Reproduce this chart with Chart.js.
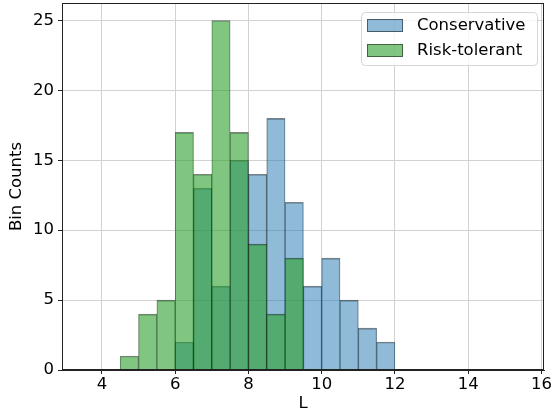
<!DOCTYPE html>
<html lang="en">
<head>
<meta charset="UTF-8">
<title>Bin Counts</title>
<script src="https://cdn.jsdelivr.net/npm/chart.js"></script>
<style>
  html, body { margin: 0; padding: 0; background: #fff; }
</style>
</head>
<body>
<canvas id="graph" width="551" height="415"></canvas>
<script>
// bin centers, bin width 0.5
const riskCenters = [3.75, 4.25, 4.75, 5.25, 5.75, 6.25, 6.75, 7.25, 7.75, 8.25, 8.75, 9.25];
const riskCounts = [0, 0, 1, 4, 5, 17, 14, 25, 17, 9, 4, 8];

const consCenters = [6.25, 6.75, 7.25, 7.75, 8.25, 8.75, 9.25, 9.75, 10.25, 10.75, 11.25, 11.75,
                     12.25, 12.75, 13.25, 13.75, 14.25, 14.75, 15.25];
const consCounts = [2, 13, 6, 15, 14, 18, 12, 6, 8, 5, 3, 2, 0, 0, 0, 0, 0, 0, 0];

const xTicks = [4, 6, 8, 10, 12, 14, 16];
const yTicks = [0, 5, 10, 15, 20, 25];

const FONT = { family: "DejaVu Sans", size: 16.5 };

function toPoints(xs, ys) {
    return xs.map((x, i) => ({ x: x, y: ys[i] }));
}

// legend drawn inside the axes, with a frame like matplotlib
const boxLegend = {
    id: "boxLegend",
    afterDraw(chart) {
        const ctx = chart.ctx;
        const area = chart.chartArea;
        const items = [chart.data.datasets[0], chart.data.datasets[1]];
        const w = 176, h = 53;
        const x0 = Math.round(area.right) - 7 - w, y0 = Math.round(area.top) + 9;
        ctx.save();
        ctx.beginPath();
        ctx.roundRect(x0 + 0.5, y0 + 0.5, w, h, 4);
        ctx.fillStyle = "rgba(255,255,255,0.8)";
        ctx.fill();
        ctx.strokeStyle = "#d6d6d6";
        ctx.lineWidth = 1;
        ctx.stroke();
        ctx.font = FONT.size + "px " + FONT.family;
        ctx.textBaseline = "middle";
        items.forEach((ds, i) => {
            const cy = y0 + 13 + i * 25;
            ctx.fillStyle = ds.backgroundColor;
            ctx.fillRect(x0 + 6, cy - 6, 36, 13);
            ctx.strokeStyle = "rgba(0,0,0,0.5)";
            ctx.strokeRect(x0 + 6.5, cy - 5.5, 35, 12);
            ctx.fillStyle = "#000";
            ctx.fillText(ds.label, x0 + 56, cy + 1);
        });
        ctx.restore();
    }
};

// full frame around the plot area
const frame = {
    id: "frame",
    afterDatasetsDraw(chart) {
        const a = chart.chartArea;
        const ctx = chart.ctx;
        ctx.save();
        ctx.strokeStyle = "#222";
        ctx.lineWidth = 1;
        ctx.strokeRect(Math.round(a.left) + 0.5, Math.round(a.top) + 0.5,
                       Math.round(a.right - a.left) - 1, Math.round(a.bottom - a.top) - 1);
        ctx.restore();
    }
};

const barStyle = {
    type: "bar",
    grouped: false,
    barPercentage: 1,
    categoryPercentage: 1,
    borderWidth: { top: 1, left: 0.5, right: 0.5, bottom: 0 },
    borderSkipped: false,
    borderColor: "rgba(0,0,0,0.5)"
};

new Chart(document.getElementById("graph").getContext("2d"), {
    type: "bar",
    data: {
        datasets: [
            Object.assign({}, barStyle, {
                label: "Conservative",
                data: toPoints(consCenters, consCounts),
                backgroundColor: "rgba(31,119,180,0.5)",
                order: 2
            }),
            Object.assign({}, barStyle, {
                label: "Risk-tolerant",
                data: toPoints(riskCenters, riskCounts),
                backgroundColor: "rgba(44,160,44,0.6)",
                order: 1
            })
        ]
    },
    options: {
        responsive: false,
        animation: false,
        layout: { padding: { top: 3, right: 7, left: 0, bottom: 0 } },
        plugins: {
            legend: { display: false },
            tooltip: { enabled: false }
        },
        scales: {
            x: {
                type: "linear",
                min: 2.91,
                max: 16.07,
                offset: false,
                afterBuildTicks: s => { s.ticks = xTicks.map(v => ({ value: v })); },
                afterFit: s => { s.height = 45; s.paddingLeft = 0; s.paddingRight = 0; },
                ticks: { color: "#000", font: FONT, padding: 1, maxRotation: 0 },
                grid: { offset: false, color: "#d2d2d2", tickLength: 4, tickColor: "#222" },
                border: { color: "#222" },
                title: { display: true, text: "L", color: "#000", font: FONT, padding: { top: 0, bottom: 1 } }
            },
            y: {
                min: 0,
                max: 26.25,
                afterBuildTicks: s => { s.ticks = yTicks.map(v => ({ value: v })); },
                afterFit: s => { s.width = 62; s.paddingTop = 0; s.paddingBottom = 0; },
                ticks: { color: "#000", font: FONT, padding: 4 },
                grid: { color: "#d2d2d2", tickLength: 4, tickColor: "#222" },
                border: { color: "#222" },
                title: { display: true, text: "Bin Counts", color: "#000", font: FONT, padding: { top: 7, bottom: 0 } }
            }
        }
    },
    plugins: [frame, boxLegend]
});
</script>
</body>
</html>
